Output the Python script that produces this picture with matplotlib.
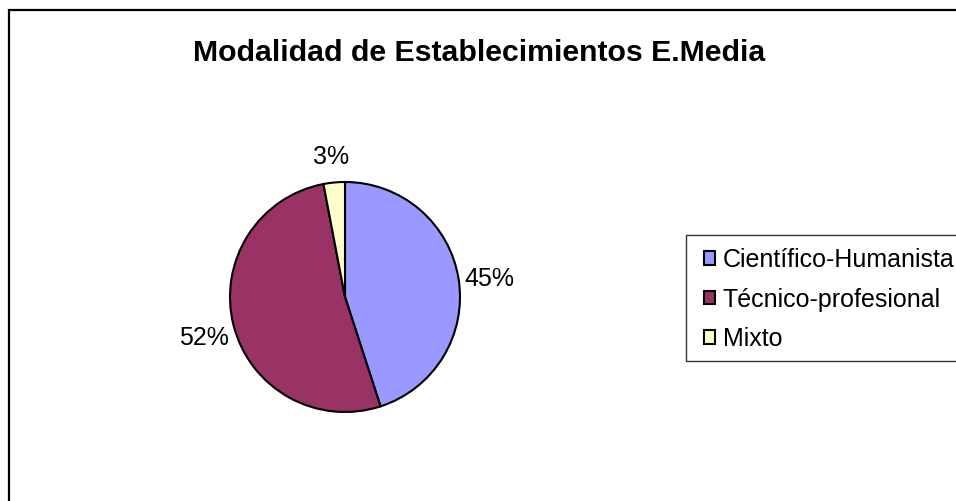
import matplotlib
matplotlib.use("Agg")
import matplotlib.pyplot as plt
from matplotlib.patches import Rectangle
from matplotlib.transforms import offset_copy

W, H = 956, 501

categorias = ["Científico-Humanista", "Técnico-profesional", "Mixto"]
porcentajes = [45, 52, 3]
colores = ["#9999FF", "#993366", "#FFFFCC"]
titulo = "Modalidad de Establecimientos E.Media"

plt.rcParams['font.family'] = ['Liberation Sans', 'DejaVu Sans']

fig = plt.figure(figsize=(W / 100, H / 100), dpi=100)

# marco exterior del gráfico (se sale por la derecha y abajo)
fig.patches.append(Rectangle((9 / W, -0.05), 1.1, 1.05 - 10 / H,
                             transform=fig.transFigure, fill=False,
                             edgecolor='black', linewidth=1.6))

fig.text(479 / W, 1 - 53 / H, titulo, ha='center', va='center',
         fontsize=21.8, fontweight='bold')

# eje del pie: centro (345, 297) px, radio 115 px
cx, cy, r = 345, 297, 115
half = 2 * r
ax = fig.add_axes([(cx - half) / W, (H - cy - half) / H, 2 * half / W, 2 * half / H])
wedges, texts, autotexts = ax.pie(
    porcentajes, colors=colores, startangle=90, counterclock=False,
    autopct='%1.0f%%', pctdistance=1.27,
    wedgeprops=dict(edgecolor='black', linewidth=1.5),
    textprops=dict(fontsize=18))
# las etiquetas de Excel quedan un poco más abajo
for t in autotexts:
    t.set_transform(offset_copy(ax.transData, fig=fig, x=0, y=-5, units='dots'))
ax.set_xlim(-2, 2)
ax.set_ylim(-2, 2)
ax.set_aspect('equal')
ax.axis('off')

# leyenda
fig.patches.append(Rectangle((686 / W, (H - 361) / H), 0.5, (361 - 235) / H,
                             transform=fig.transFigure, fill=False,
                             edgecolor='#333333', linewidth=1.0))
fig.legend(wedges, categorias, loc='upper left',
           bbox_to_anchor=(704 / W, 1 - 248 / H), frameon=False,
           fontsize=18, handlelength=0.45, handleheight=0.45,
           handletextpad=0.3, labelspacing=0.62, borderpad=0, borderaxespad=0)

fig.savefig("out.png", dpi=100)
